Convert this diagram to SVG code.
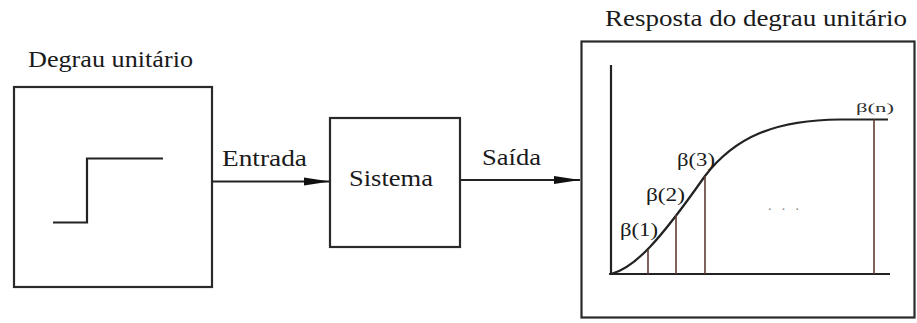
<svg xmlns="http://www.w3.org/2000/svg" width="917" height="323" viewBox="0 0 917 323">
<style>
  .box { fill: #fff; stroke: #2a2a2a; stroke-width: 2.2; }
  .ln { fill: none; stroke: #222; stroke-width: 2.2; }
  .thin { fill: none; stroke: #5e3a32; stroke-width: 1.6; }
  .conn { fill: none; stroke: #222; stroke-width: 2.2; }
  text { font-family: "Liberation Serif", "Times New Roman", serif; fill: #1a1a1a; }
</style>
<defs>
  <marker id="arr" markerUnits="userSpaceOnUse" markerWidth="26" markerHeight="12" refX="26" refY="6" orient="auto">
    <path d="M0,2 L26,6 L0,10 Z" fill="#111"/>
  </marker>
</defs>
<rect width="917" height="323" fill="#fff"/>

<g id="node-step">
  <text x="28" y="67" font-size="23" textLength="165" lengthAdjust="spacingAndGlyphs">Degrau unitário</text>
  <rect class="box" x="14" y="87" width="198" height="200"/>
  <polyline class="ln" points="53,222.5 87,222.5 87,158.5 163,158.5"/>
</g>

<g id="node-system">
  <rect class="box" x="330" y="118" width="130" height="129"/>
  <text x="349" y="186" font-size="23" textLength="84" lengthAdjust="spacingAndGlyphs">Sistema</text>
</g>

<g id="node-response">
  <text x="605" y="26" font-size="23" textLength="302" lengthAdjust="spacingAndGlyphs">Resposta do degrau unitário</text>
  <rect class="box" x="581.5" y="41.5" width="333" height="276"/>
  <line class="ln" x1="611" y1="65" x2="611" y2="275"/>
  <line class="ln" x1="609" y1="274" x2="890" y2="274"/>
  <path class="ln" d="M611,274 C635,268 660,240 705,176 C735,137 775,120 840,119.5 L888,119.5"/>
  <line class="thin" x1="648" y1="274" x2="648" y2="250"/>
  <line class="thin" x1="676" y1="274" x2="676" y2="215"/>
  <line class="thin" x1="705" y1="274" x2="705" y2="176"/>
  <line class="thin" x1="874" y1="274" x2="874" y2="119.5"/>
  <text x="620" y="236" font-size="18" textLength="38" lengthAdjust="spacingAndGlyphs">β(1)</text>
  <text x="646" y="201" font-size="18" textLength="39" lengthAdjust="spacingAndGlyphs">β(2)</text>
  <text x="677" y="166" font-size="18" textLength="38" lengthAdjust="spacingAndGlyphs">β(3)</text>
  <text x="856" y="112" font-size="12" textLength="38" lengthAdjust="spacingAndGlyphs" style="fill:#333">β(n)</text>
  <text x="768" y="210" font-size="14" textLength="31" lengthAdjust="spacing" style="fill:#888">. . .</text>
</g>

<g id="connectors">
  <line class="conn" x1="212" y1="181.5" x2="330" y2="181.5" marker-end="url(#arr)"/>
  <text x="222" y="166" font-size="23" textLength="85" lengthAdjust="spacingAndGlyphs">Entrada</text>
  <line class="conn" x1="460" y1="180" x2="580" y2="180" marker-end="url(#arr)"/>
  <text x="482" y="165" font-size="23" textLength="59" lengthAdjust="spacingAndGlyphs">Saída</text>
</g>
</svg>
